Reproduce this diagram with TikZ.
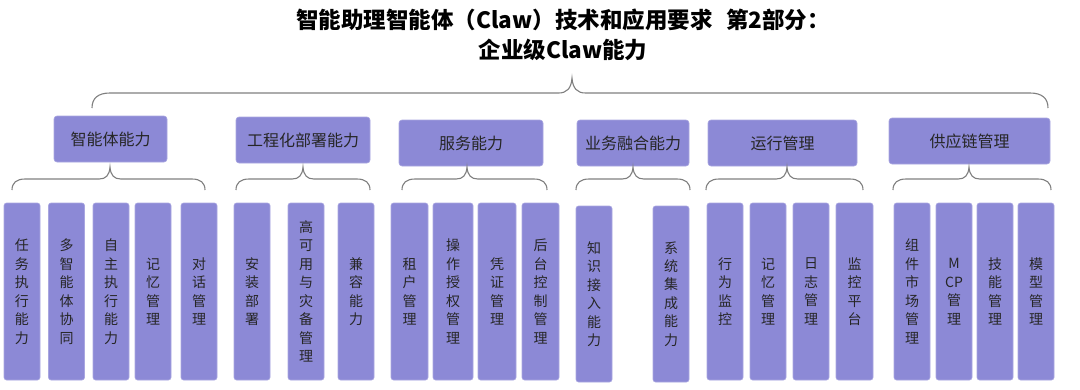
\documentclass[tikz,border=0pt]{standalone}
\usepackage{fontspec}
\setmainfont{Noto Sans CJK SC}
\usepackage{xcolor}
\usepackage{tikz}
\usetikzlibrary{positioning}
\definecolor{boxfill}{HTML}{8C89D6}
\definecolor{boxtext}{HTML}{262626}
\definecolor{bracegray}{HTML}{7F7F7F}
% #1 left x, #2 right x, #3 tip x, #4 base y, #5 end drop, #6 tip rise
\newcommand{\curlybrace}[6]{%
  \draw[brace line] (#1,#4+#5) .. controls (#1,#4+0.35*#5) and (#1+0.4*#5,#4) .. (#1+1.2*#5,#4)
    -- (#3-0.9*#6,#4) .. controls (#3-0.35*#6,#4) and (#3-0.05*#6,#4-0.3*#6) .. (#3,#4-#6)
    .. controls (#3+0.05*#6,#4-0.3*#6) and (#3+0.35*#6,#4) .. (#3+0.9*#6,#4)
    -- (#2-1.2*#5,#4) .. controls (#2-0.4*#5,#4) and (#2,#4+0.35*#5) .. (#2,#4+#5);}

\begin{document}
\begin{tikzpicture}[x=1pt, y=-1pt,
    hdr/.style={rectangle, rounded corners=3pt, fill=boxfill, draw=boxfill!75!white, line width=0.6pt,
      minimum height=46pt, text=boxtext, font=\fontsize{16}{18}\selectfont, inner sep=0pt},
    leaf/.style={rectangle, rounded corners=2.5pt, fill=boxfill, draw=boxfill!75!white, line width=0.6pt,
      minimum width=36pt, minimum height=177pt, text=boxtext, align=center, inner sep=0pt,
      font=\fontsize{14}{18.5}\selectfont},
    brace line/.style={draw=bracegray, line width=1.1pt}]
  \useasboundingbox (0,0) rectangle (1080,389);

  % title
  \node[align=center, font=\fontsize{22.5}{30}\selectfont\bfseries, text=black] (title) at (563,35)
    {智能助理智能体（Claw）技术和应用要求\hspace{0.6em}第2部分：\\企业级Claw能力};
  \curlybrace{92}{1048}{572}{93}{15}{15}

  % group headers
  \node[hdr, minimum width=113pt] (h1) at (110.5,139) {智能体能力};
  \node[hdr, minimum width=134pt] (h2) at (303,140) {工程化部署能力};
  \node[hdr, minimum width=144pt] (h3) at (471,143) {服务能力};
  \node[hdr, minimum width=112pt] (h4) at (633,143) {业务融合能力};
  \node[hdr, minimum width=149pt] (h5) at (782.5,143) {运行管理};
  \node[hdr, minimum width=161pt] (h6) at (969.5,141) {供应链管理};

  % group braces
  \curlybrace{12}{205}{110}{179}{11}{12}
  \curlybrace{236}{370}{303}{179}{11}{12}
  \curlybrace{402}{547}{467}{179}{11}{12}
  \curlybrace{576}{690}{633}{179}{11}{12}
  \curlybrace{706}{863}{787}{179}{11}{12}
  \curlybrace{893}{1051}{969}{179}{11}{12}

  % leaves: 智能体能力
  \node[leaf] (l11) at (22,291.5) {任\\务\\执\\行\\能\\力};
  \node[leaf] (l12) at (66.5,291.5) {多\\智\\能\\体\\协\\同};
  \node[leaf] (l13) at (111,291.5) {自\\主\\执\\行\\能\\力};
  \node[leaf] (l14) at (153,291.5) {记\\忆\\管\\理};
  \node[leaf] (l15) at (199,291.5) {对\\话\\管\\理};

  % leaves: 工程化部署能力
  \node[leaf] (l21) at (252,291.5) {安\\装\\部\\署};
  \node[leaf] (l22) at (306,291.5) {高\\可\\用\\与\\灾\\备\\管\\理};
  \node[leaf] (l23) at (356,291.5) {兼\\容\\能\\力};

  % leaves: 服务能力
  \node[leaf, minimum width=37pt] (l31) at (409.5,291.5) {租\\户\\管\\理};
  \node[leaf, minimum width=40pt] (l32) at (453,291.5) {操\\作\\授\\权\\管\\理};
  \node[leaf, minimum width=38pt] (l33) at (497,291.5) {凭\\证\\管\\理};
  \node[leaf, minimum width=37pt] (l34) at (540.5,291.5) {后\\台\\控\\制\\管\\理};

  % leaves: 业务融合能力
  \node[leaf, minimum height=176pt] (l41) at (594,294) {知\\识\\接\\入\\能\\力};
  \node[leaf, minimum height=176pt] (l42) at (671,294) {系\\统\\集\\成\\能\\力};

  % leaves: 运行管理
  \node[leaf] (l51) at (725,291.5) {行\\为\\监\\控};
  \node[leaf] (l52) at (768,291.5) {记\\忆\\管\\理};
  \node[leaf] (l53) at (811,291.5) {日\\志\\管\\理};
  \node[leaf, minimum width=37pt] (l54) at (854.5,291.5) {监\\控\\平\\台};

  % leaves: 供应链管理
  \node[leaf] (l61) at (912,291.5) {组\\件\\市\\场\\管\\理};
  \node[leaf] (l62) at (954,291.5) {M\\CP\\管\\理};
  \node[leaf] (l63) at (995,291.5) {技\\能\\管\\理};
  \node[leaf] (l64) at (1036,291.5) {模\\型\\管\\理};
\end{tikzpicture}
\end{document}
